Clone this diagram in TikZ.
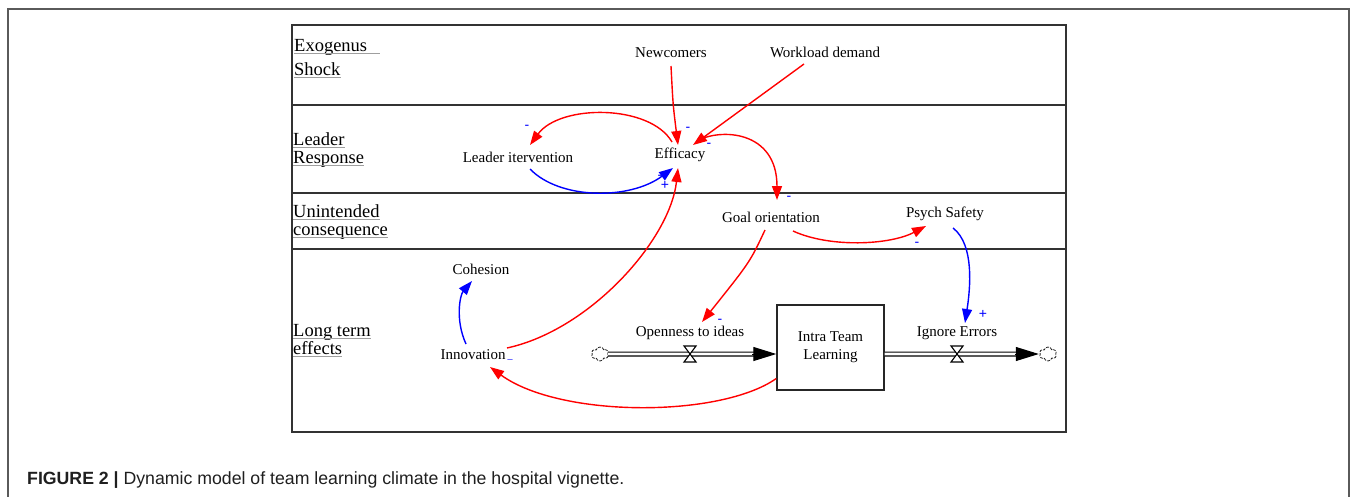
\documentclass[tikz,border=0pt]{standalone}
\usepackage{fontspec}
\setmainfont{Liberation Serif}
\newfontfamily\capfont{Liberation Sans}
\usetikzlibrary{arrows.meta,calc,shapes.symbols}
\definecolor{rd}{RGB}{255,0,0}
\definecolor{bl}{RGB}{0,0,255}
\definecolor{frame}{RGB}{90,90,90}
\begin{document}
\begin{tikzpicture}[x=1pt,y=-1pt,
  lbl/.style={font=\fontsize{15}{18}\selectfont, inner sep=0pt},
  lane/.style={font=\fontsize{18.5}{20}\selectfont, anchor=base west, inner sep=0pt},
  uline/.style={draw=gray!75, line width=1pt},
  ra/.style={draw=rd, line width=1.4pt, -{Triangle[length=14pt,width=10pt]}},
  ba/.style={draw=bl, line width=1.4pt, -{Triangle[length=14pt,width=10pt]}},
  sgn/.style={text=bl, font=\capfont\fontsize{14}{15}\selectfont, inner sep=0pt},
  pipe/.style={draw=black, line width=1.2pt, double=white, double distance=2.6pt},
  flowtip/.style={line width=1pt, -{Triangle[length=23pt,width=14pt]}},
  valvebox/.style={draw=black, fill=white, line width=1.1pt},
  cloudnode/.style={cloud, cloud puffs=6, draw=black!85, dashed, dash pattern=on 3pt off 1.2pt, line width=0.8pt,
    minimum width=17pt, minimum height=14pt, inner sep=0pt, aspect=1.3},
  stockbox/.style={draw=black!85, line width=1.4pt, minimum width=107pt, minimum height=85pt,
    inner sep=0pt, align=center, font=\fontsize{15}{18}\selectfont}
]
\useasboundingbox (0,0) rectangle (1358,496);
% outer frame
\draw[frame, line width=1.5pt] (8,498) -- (8,9) -- (1349,9) -- (1349,498);
% inner box and lanes
\draw[black!80, line width=1.3pt] (292,25) rectangle (1066,432);
\draw[black!80, line width=1.2pt] (292,105) -- (1066,105);
\draw[black!80, line width=1.2pt] (292,193) -- (1066,193);
\draw[black!80, line width=1.2pt] (292,249) -- (1066,249);

% lane labels
\node[lane] (l1) at (294,51) {Exogenus};
\node[lane] (l2) at (294,75) {Shock};
\node[lane] (l3) at (293,145) {Leader};
\node[lane] (l4) at (293,163) {Response};
\node[lane] (l5) at (293,217) {Unintended};
\node[lane] (l6) at (293,235) {consequence};
\node[lane] (l7) at (293,336) {Long term};
\node[lane] (l8) at (293,354) {effects};
\draw[uline] ($(l1.base west)+(0,2.5)$) -- ($(l1.base east)+(13,2.5)$);
\foreach \n in {l2,l3,l4,l5,l6,l7,l8}
  \draw[uline] ($(\n.base west)+(0,2.5)$) -- ($(\n.base east)+(0,2.5)$);

% variables
\node[lbl] (newc) at (671,53) {Newcomers};
\node[lbl] (work) at (825,52) {Workload demand};
\node[lbl] (lead) at (518,157) {Leader itervention};
\node[lbl] (eff) at (680,155) {Efficacy};
\node[lbl] (goal) at (771,217) {Goal orientation};
\node[lbl] (psych) at (945,214) {Psych Safety};
\node[lbl] (coh) at (481,269) {Cohesion};
\node[lbl] (inno) at (473,355) {Innovation};
\node[lbl] (open) at (690,333) {Openness to ideas};
\node[lbl] (ign) at (957,333) {Ignore Errors};
\node[stockbox] (itl) at (830.5,347.5) {Intra Team\\Learning};

% flows
\node[cloudnode] (cL) at (600,354) {};
\node[cloudnode] (cR) at (1048,354) {};
\coordinate (vL) at (690,354);
\coordinate (vR) at (957,354);
\draw[pipe] (cL.east) -- ($(itl.west |- vL)+(-10,0)$);
\draw[flowtip] ($(itl.west |- vL)+(-24,0)$) -- (itl.west |- vL);
\draw[pipe] (itl.east |- vR) -- ($(cR.west)+(-10,0)$);
\draw[flowtip] ($(cR.west)+(-25,0)$) -- ($(cR.west)+(-1,0)$);
\draw[valvebox] ($(vL)+(-6,-8)$) -- ($(vL)+(6,-8)$) -- ($(vL)+(-6,8)$) -- ($(vL)+(6,8)$) -- cycle;
\draw[valvebox] ($(vR)+(-6,-8)$) -- ($(vR)+(6,-8)$) -- ($(vR)+(-6,8)$) -- ($(vR)+(6,8)$) -- cycle;

% causal links
\draw[ra] ($(newc)+(0,13)$) .. controls (673,105) .. ($(eff)+(-2,-10)$);
\draw[ra] ($(work)+(-21,12)$) -- ($(eff)+(13,-10)$);
\draw[ra] ($(eff)+(-8,-13)$) .. controls (650,104) and (560,104) .. ($(lead)+(12,-12)$);
\draw[ba] ($(lead)+(12,12)$) .. controls (560,200) and (630,200) .. ($(eff)+(-7,13)$);
\draw[ra] ($(inno)+(34,-7)$) .. controls (590,330) and (670,240) .. ($(eff)+(-2,13)$);
\draw[ra] ($(eff)+(17,-14)$) .. controls (720,128) and (777,130) .. ($(goal)+(6,-17)$);
\draw[ra] ($(goal)+(-6,13)$) .. controls (750,262) .. ($(open)+(12,-11)$);
\draw[ra] ($(goal)+(22,14)$) .. controls (830,248) and (890,245) .. ($(psych)+(-19,12)$);
\draw[ba] ($(psych)+(8,14)$) .. controls (975,245) and (970,290) .. ($(ign)+(8,-10)$);
\draw[ba] ($(inno)+(-7,-11)$) .. controls (455,320) and (460,295) .. ($(coh)+(-9,12)$);
\draw[ra] ($(itl.west)+(0,31)$) .. controls (720,418) and (560,418) .. ($(inno)+(17,12)$);

% polarities
\node[sgn] (s1) at (527,127) {-};
\node[sgn] (s2) at (688,129) {-};
\node[sgn] (s3) at (709,145) {-};
\node[sgn] (s4) at (665,185) {+};
\node[sgn] (s5) at (660,177) {-};
\node[sgn] (s6) at (789,198) {-};
\node[sgn] (s7) at (917,244) {-};
\node[sgn] (s8) at (720,321) {-};
\node[sgn] (s9) at (983,314) {+};
\node[sgn, font=\capfont\fontsize{9}{10}\selectfont] (s10) at (510,359) {\_};

% caption
\node[anchor=base west, inner sep=0pt, text=black!88, font=\capfont\fontsize{17.7}{20}\selectfont] (cap) at (27,484)
  {\textbf{FIGURE 2 |} Dynamic model of team learning climate in the hospital vignette.};
\end{tikzpicture}
\end{document}
